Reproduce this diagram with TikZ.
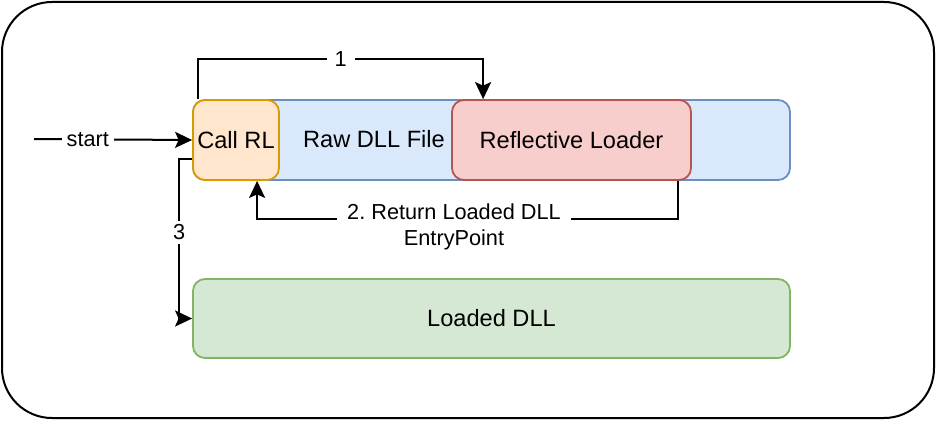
\documentclass[tikz,border=0pt]{standalone}
\usepackage{fontspec}
\setmainfont{Liberation Sans}
\usetikzlibrary{arrows.meta,positioning}
\definecolor{rawfill}{HTML}{DAE8FC}\definecolor{rawline}{HTML}{6C8EBF}
\definecolor{callfill}{HTML}{FFE6CC}\definecolor{callline}{HTML}{D79B00}
\definecolor{reflfill}{HTML}{F8CECC}\definecolor{reflline}{HTML}{B85450}
\definecolor{loadfill}{HTML}{D5E8D4}\definecolor{loadline}{HTML}{82B366}
\frenchspacing
\begin{document}
\begin{tikzpicture}[x=1pt,y=-1pt,
	box/.style={draw,line width=1.8pt,rounded corners=12pt,minimum height=80pt,inner sep=0pt,font=\fontsize{23.6}{28}\selectfont},
	arr/.style={line width=2pt,-{Stealth[length=17pt,width=16pt,inset=3.5pt]}},
	lbl/.style={fill=white,inner sep=2pt,font=\fontsize{21.7}{26.5}\selectfont}]
		\useasboundingbox (0,0) rectangle (936,420);
		\draw[line width=2pt,rounded corners=50pt] (2,2) rectangle (934,418);
		% Raw DLL File
		\node[box,fill=rawfill,draw=rawline,minimum width=597pt] (raw) at (491.5,140) {};
		\node[font=\fontsize{23.6}{28}\selectfont] (rawtext) at (374,139) {Raw DLL File};
		% Call RL and Reflective Loader
		\node[box,fill=callfill,draw=callline,minimum width=86pt] (callrl) at (236,140) {Call RL};
		\node[box,fill=reflfill,draw=reflline,minimum width=239pt] (refl) at (571.5,140) {Reflective Loader};
		% Loaded DLL
		\node[box,fill=loadfill,draw=loadline,minimum width=597pt,minimum height=79pt] (loaded) at (491.5,318.5) {Loaded DLL};
		% start
		\coordinate (start) at (34,139);
		\draw[arr] (start) -- node[lbl,pos=0.34,inner xsep=5pt] (startlbl) {start} (callrl.west);
		% 1
		\draw[arr] ([xshift=6pt]callrl.north west) -- ++(0,-40) -| node[lbl,pos=0.25,inner xsep=8pt] (onelbl) {1} ([xshift=32pt]refl.north west);
		% 2
		\draw[arr] ([xshift=-14pt]refl.south east) -- ++(0,38) -| ([xshift=65pt]callrl.south west);
		\node[lbl,align=center,inner xsep=10pt] (retlbl) at (454,227) {2. Return Loaded DLL\\EntryPoint};
		% 3
		\draw[arr] ([yshift=-19pt]callrl.west) -- ++(-13,0) |- node[lbl,pos=0.23,inner ysep=4pt] (threelbl) {3} (loaded.west);
\end{tikzpicture}
\end{document}
